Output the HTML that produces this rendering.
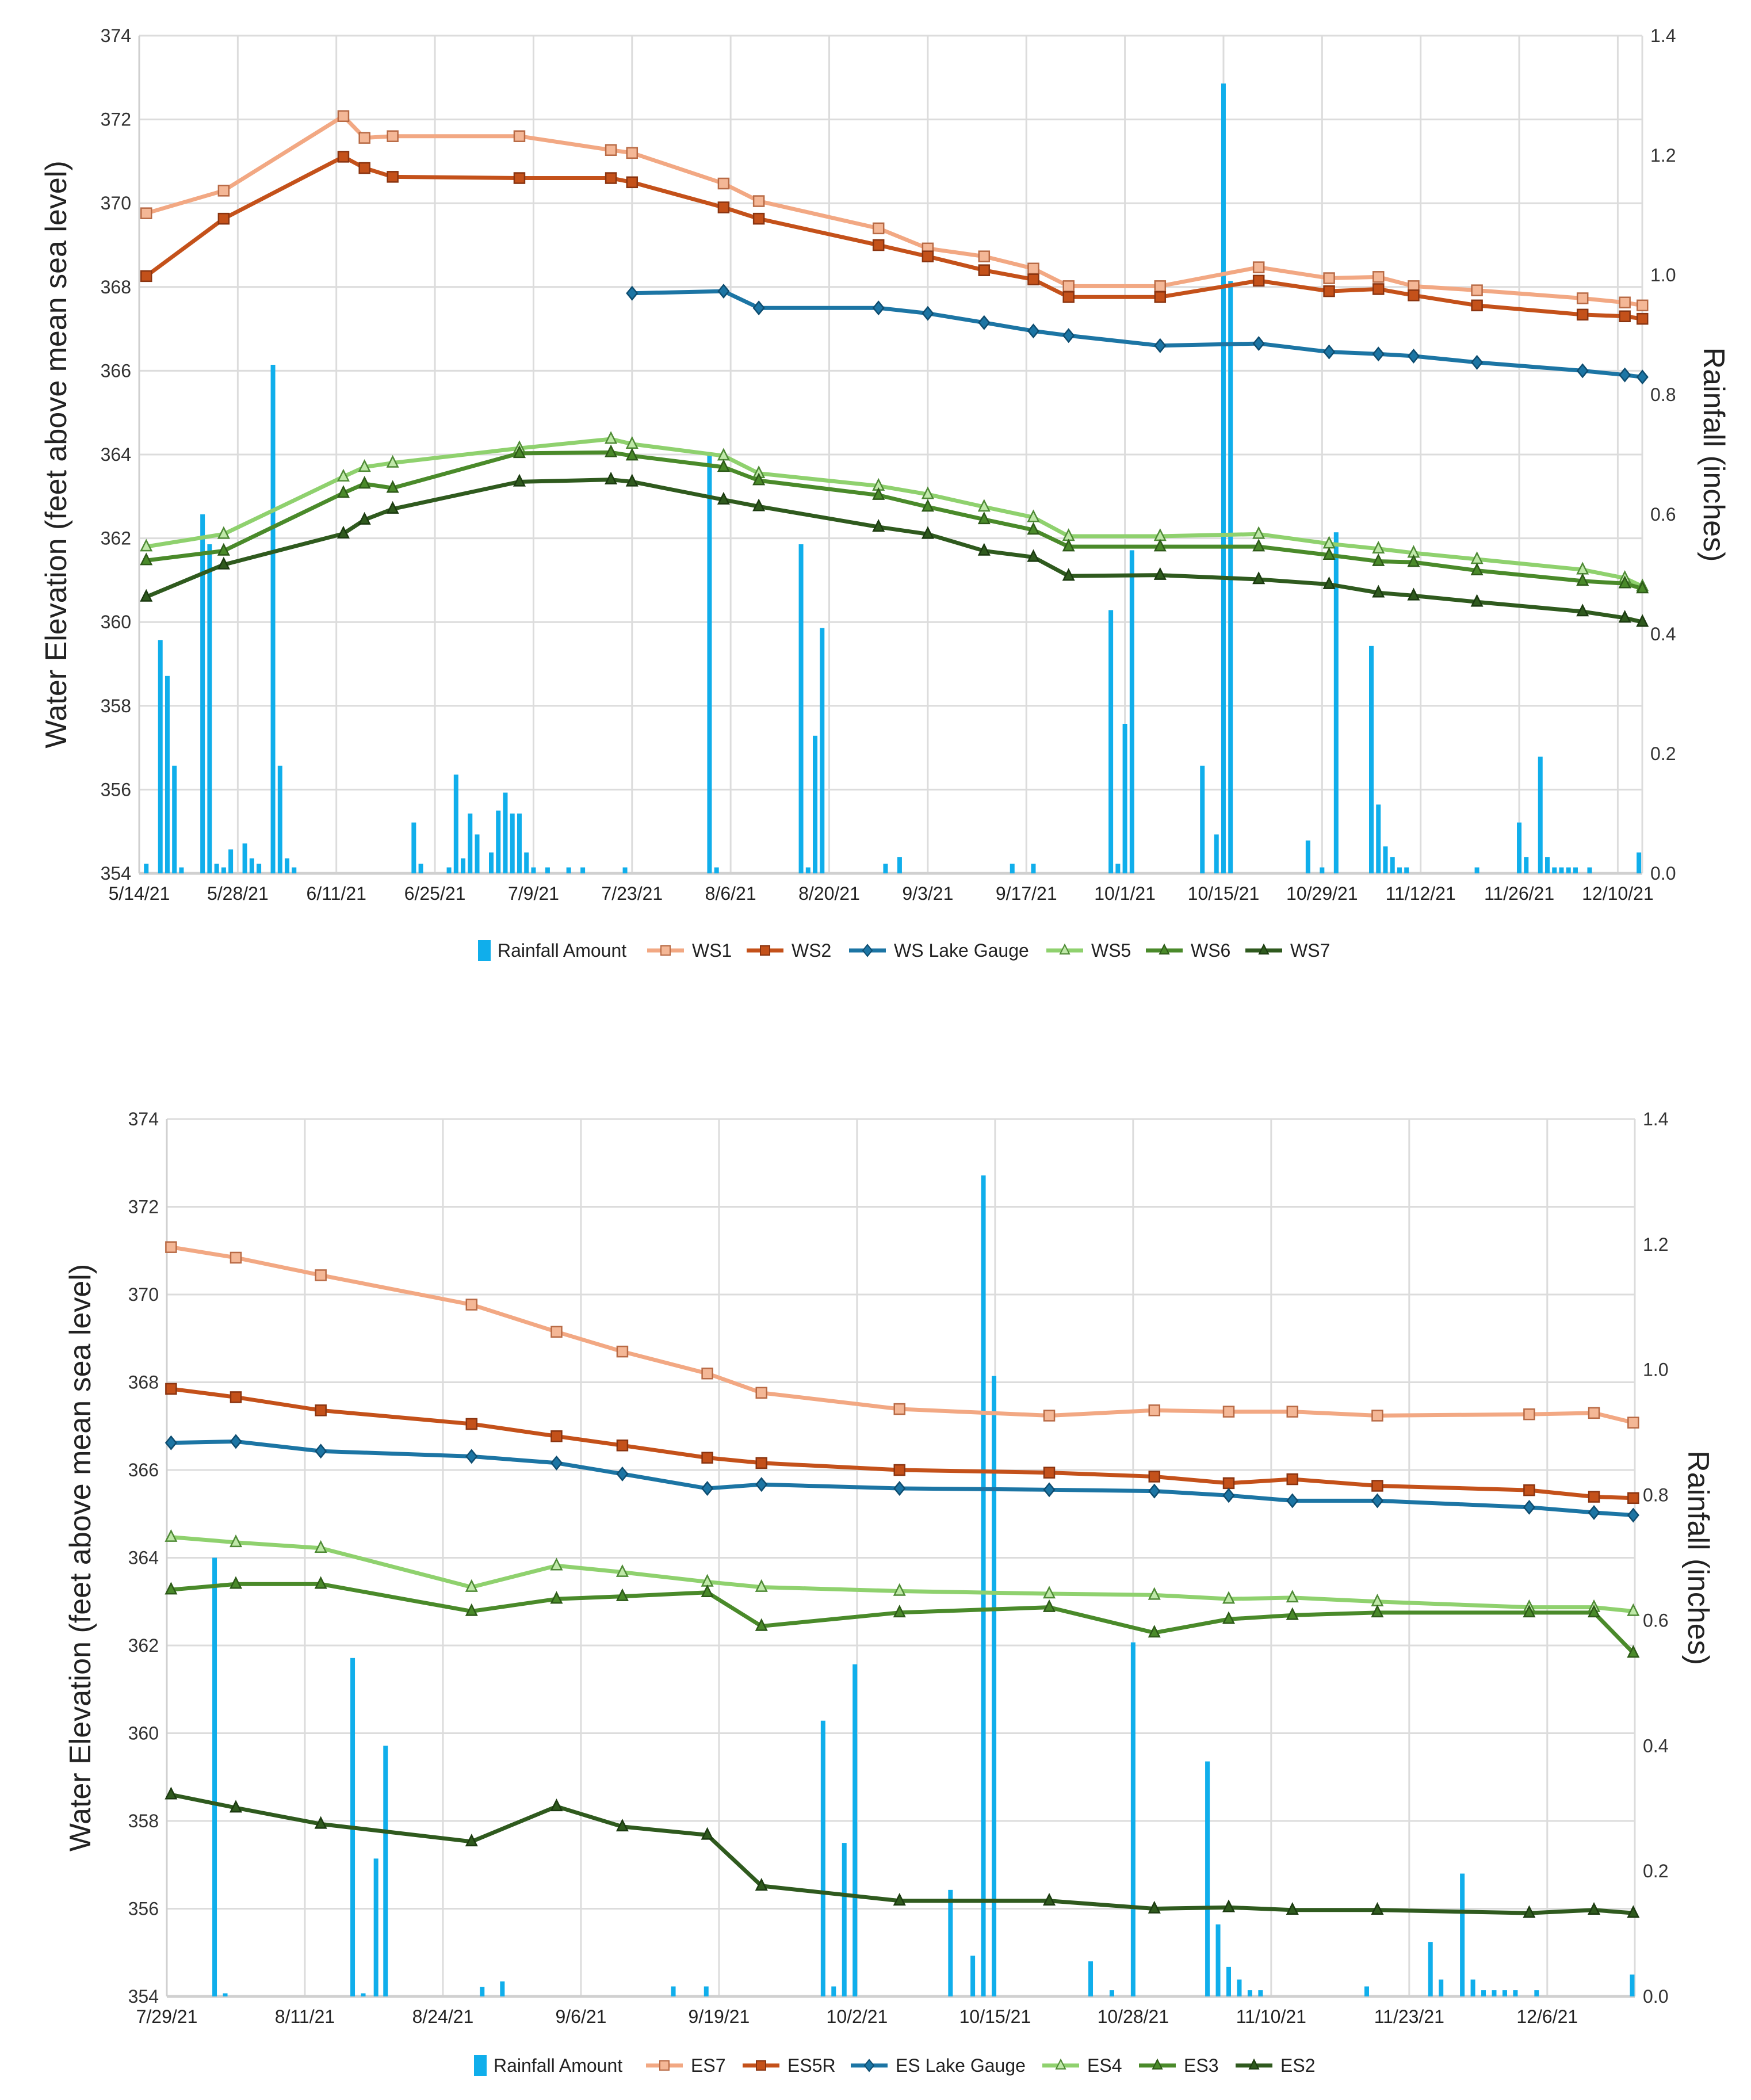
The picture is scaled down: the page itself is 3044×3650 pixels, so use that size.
<!DOCTYPE html>
<html><head><meta charset="utf-8">
<style>
html,body{margin:0;padding:0;background:#fff;}
svg{display:block;font-family:"Liberation Sans",sans-serif;}
</style></head>
<body>
<svg id="root" width="3044" height="3650" viewBox="0 0 3044 3650" xmlns="http://www.w3.org/2000/svg">
<g id="c1"></g>
<g id="c2"></g>
</svg>
<script>
// ===== Chart 1 (West side) data: day offsets from 5/14/21 =====
const wsTickLabels = ["5/14/21","5/28/21","6/11/21","6/25/21","7/9/21","7/23/21","8/6/21","8/20/21","9/3/21","9/17/21","10/1/21","10/15/21","10/29/21","11/12/21","11/26/21","12/10/21"];
const wsDays = [1,12,29,32,36,54,67,70,83,88,105,112,120,127,132,145,159,169,176,181,190,205,211,213.5];
const ws1 = [369.76,370.3,372.08,371.56,371.6,371.6,371.27,371.2,370.47,370.05,369.4,368.92,368.73,368.44,368.02,368.02,368.47,368.21,368.24,368.02,367.92,367.73,367.63,367.56];
const ws2 = [368.26,369.63,371.11,370.84,370.63,370.6,370.6,370.5,369.9,369.63,369.0,368.73,368.4,368.18,367.76,367.76,368.15,367.9,367.95,367.8,367.56,367.34,367.3,367.24];
const wsLake = [null,null,null,null,null,null,null,367.85,367.9,367.5,367.5,367.37,367.15,366.95,366.84,366.6,366.65,366.45,366.4,366.35,366.2,366.0,365.9,365.85];
const ws5 = [361.8,362.1,363.47,363.7,363.8,364.15,364.37,364.25,363.97,363.55,363.25,363.05,362.75,362.5,362.05,362.05,362.1,361.87,361.75,361.65,361.5,361.25,361.05,360.85];
const ws6 = [361.47,361.7,363.08,363.3,363.2,364.03,364.05,363.97,363.7,363.38,363.03,362.75,362.45,362.2,361.8,361.8,361.8,361.6,361.45,361.43,361.23,360.98,360.92,360.8];
const ws7 = [360.6,361.37,362.11,362.44,362.7,363.35,363.4,363.35,362.92,362.76,362.27,362.1,361.7,361.55,361.1,361.12,361.02,360.9,360.7,360.63,360.48,360.25,360.1,360.0];
const wsRainDays = [1,3,4,5,6,9,10,11,12,13,15,16,17,19,20,21,22,39,40,44,45,46,47,48,50,51,52,53,54,55,56,58,61,63,69,81,82,94,95,96,97,106,108,124,127,138,139,140,141,151,153,154,155,166,168,170,175,176,177,178,179,180,190,196,197,199,200,201,202,203,204,206,213];
const wsRain = [0.016,0.39,0.33,0.18,0.01,0.6,0.55,0.016,0.01,0.04,0.05,0.025,0.016,0.85,0.18,0.025,0.01,0.085,0.016,0.01,0.165,0.025,0.1,0.065,0.035,0.105,0.135,0.1,0.1,0.035,0.01,0.01,0.01,0.01,0.01,0.7,0.01,0.55,0.01,0.23,0.41,0.016,0.027,0.016,0.016,0.44,0.016,0.25,0.54,0.18,0.065,1.32,0.99,0.055,0.01,0.57,0.38,0.115,0.045,0.027,0.01,0.01,0.01,0.085,0.027,0.195,0.027,0.01,0.01,0.01,0.01,0.01,0.035];

// ===== Chart 2 (East side) data: day offsets from 7/29/21 =====
const esTickLabels = ["7/29/21","8/11/21","8/24/21","9/6/21","9/19/21","10/2/21","10/15/21","10/28/21","11/10/21","11/23/21","12/6/21"];
const esDays = [0.4,6.5,14.5,28.7,36.7,42.9,50.9,56,69,83.1,93,100,106,114,128.3,134.4,138.1];
const es7 = [371.08,370.84,370.44,369.77,369.15,368.7,368.2,367.76,367.39,367.24,367.36,367.33,367.33,367.24,367.27,367.3,367.08];
const es5r = [367.85,367.66,367.36,367.05,366.77,366.56,366.28,366.16,366.0,365.94,365.85,365.7,365.79,365.64,365.54,365.39,365.36];
const esLake = [366.62,366.65,366.43,366.31,366.16,365.91,365.58,365.67,365.58,365.55,365.52,365.42,365.3,365.3,365.15,365.03,364.97];
const es4 = [364.47,364.35,364.22,363.33,363.82,363.67,363.45,363.33,363.24,363.18,363.15,363.06,363.09,363.0,362.87,362.87,362.78];
const es3 = [363.27,363.4,363.4,362.78,363.06,363.12,363.21,362.44,362.75,362.87,362.29,362.6,362.69,362.75,362.75,362.75,361.83];
const es2 = [358.6,358.3,357.93,357.53,358.33,357.87,357.68,356.52,356.18,356.18,356.0,356.03,355.97,355.97,355.9,355.97,355.9];
const esRainDays = [4.5,5.5,17.5,18.5,19.7,20.6,29.7,31.6,47.7,50.8,61.8,62.8,63.8,64.8,73.8,75.9,76.9,77.9,87,89,91,98,99,100,101,102,103,113,119,120,122,123,124,125,126,127,129,138];
const esRain = [0.7,0.005,0.54,0.005,0.22,0.4,0.015,0.024,0.016,0.016,0.44,0.016,0.245,0.53,0.17,0.065,1.31,0.99,0.056,0.01,0.565,0.375,0.115,0.047,0.027,0.01,0.01,0.016,0.087,0.027,0.196,0.027,0.01,0.01,0.01,0.01,0.01,0.035];

const yTicks = [354,356,358,360,362,364,366,368,370,372,374];
const rTicks = ["0.0","0.2","0.4","0.6","0.8","1.0","1.2","1.4"];

const NS = "http://www.w3.org/2000/svg";
function mk(parent, tag, attrs, text){
  const e = document.createElementNS(NS, tag);
  for (const k in attrs) e.setAttribute(k, attrs[k]);
  if (text !== undefined) e.textContent = text;
  parent.appendChild(e);
  return e;
}
const COL = {rain:"#10AEEB", s1:"#F2A883", s1m:"#F4B796", s1b:"#B86A45", s2:"#C4511A", s2b:"#8A3410",
  lake:"#1C75A4", lakeb:"#0E4D70", g1:"#8FD16E", g1b:"#4E8A35", g2:"#4A8A2A", g2b:"#2D5A18", g3:"#2F5A1E", g3b:"#1B3A10"};

function drawChart(g, geo, tickLabels, tickStep, days, seriesList, rainDays, rain, legend){
  const X = d => geo.left + d * geo.ppd;
  const Y = v => geo.bottom - (v - 354) / 20 * (geo.bottom - geo.top);
  const YR = v => geo.bottom - v / 1.4 * (geo.bottom - geo.top);
  yTicks.forEach(v => {
    const l = mk(g, "line", {x1:geo.left, x2:geo.right, y1:Y(v), y2:Y(v), stroke:"#dcdcdc", "stroke-width":3});
    
    
    const t = mk(g, "text", {x:geo.left - 14, y:Y(v) + 11, "text-anchor":"end", "font-size":32, fill:"#333"}, String(v));
    
    
  });
  rTicks.forEach((s, i) => {
    const t = mk(g, "text", {x:geo.right + 14, y:YR(i * 0.2) + 11, "font-size":32, fill:"#333"}, s);
    
    
  });
  tickLabels.forEach((s, i) => {
    const x = X(i * tickStep);
    const l = mk(g, "line", {x1:x, x2:x, y1:geo.top, y2:geo.bottom, stroke:"#dcdcdc", "stroke-width":3});
    
    
    const t = mk(g, "text", {x:x, y:geo.bottom + 46, "text-anchor":"middle", "font-size":32, fill:"#222"}, s);
    
    
  });
  const rl = mk(g, "line", {x1:geo.right, x2:geo.right, y1:geo.top, y2:geo.bottom, stroke:"#dcdcdc", "stroke-width":3});
  
  
  const ll = mk(g, "line", {x1:geo.left, x2:geo.left, y1:geo.top, y2:geo.bottom, stroke:"#d0d0d0", "stroke-width":3});
  
  
  const bl = mk(g, "line", {x1:geo.left, x2:geo.right, y1:geo.bottom, y2:geo.bottom, stroke:"#d0d0d0", "stroke-width":5});
  
  
  rainDays.forEach((d, i) => {
    const h = geo.bottom - YR(rain[i]);
    const r = mk(g, "rect", {x:X(d) - 4, y:YR(rain[i]), width:8, height:h, fill:COL.rain});
    
    
  });
  seriesList.forEach(s => {
    let pts = [];
    days.forEach((d, i) => { if (s.vals[i] !== null) pts.push([X(d), Y(s.vals[i])]); });
    const p = mk(g, "polyline", {points:pts.map(p => p.join(",")).join(" "), fill:"none", stroke:s.color, "stroke-width":7, "stroke-linejoin":"round"});
    
    
    pts.forEach(pt => {
      let m;
      if (s.marker === "square") m = mk(g, "rect", {x:pt[0]-9, y:pt[1]-9, width:18, height:18, fill:s.mfill, stroke:s.mstroke, "stroke-width":2.5});
      else if (s.marker === "diamond") m = mk(g, "polygon", {points:`${pt[0]},${pt[1]-11} ${pt[0]+9},${pt[1]} ${pt[0]},${pt[1]+11} ${pt[0]-9},${pt[1]}`, fill:s.mfill, stroke:s.mstroke, "stroke-width":2.5});
      else m = mk(g, "polygon", {points:`${pt[0]},${pt[1]-11} ${pt[0]+9},${pt[1]+7} ${pt[0]-9},${pt[1]+7}`, fill:s.mfill, stroke:s.mstroke, "stroke-width":2.5});
      
      
    });
  });
  const cy = (geo.top + geo.bottom) / 2;
  const lt = mk(g, "text", {x:geo.ltx, y:cy, "text-anchor":"middle", "font-size":52, fill:"#222", transform:`rotate(-90 ${geo.ltx} ${cy})`}, "Water Elevation (feet above mean sea level)");
  
  
  const rt = mk(g, "text", {x:geo.rtx, y:cy, "text-anchor":"middle", "font-size":52, fill:"#222", transform:`rotate(90 ${geo.rtx} ${cy})`}, "Rainfall (inches)");
  
  
  const ly = geo.legendY;
  let x = geo.legendX;
  const lg = mk(g, "g", {});
  
  
  const sw = mk(lg, "rect", {x:x, y:ly - 18, width:22, height:36, fill:COL.rain});
  
  
  const rtxt = mk(lg, "text", {x:x + 34, y:ly + 11, "font-size":32, fill:"#222"}, "Rainfall Amount");
  
  
  x += 34 + legend.rainW;
  seriesList.forEach((s, i) => {
    const ln = mk(lg, "line", {x1:x, x2:x + 64, y1:ly, y2:ly, stroke:s.color, "stroke-width":7});
    
    
    const cx = x + 32;
    let m;
    if (s.marker === "square") m = mk(lg, "rect", {x:cx-8, y:ly-8, width:16, height:16, fill:s.mfill, stroke:s.mstroke, "stroke-width":2});
    else if (s.marker === "diamond") m = mk(lg, "polygon", {points:`${cx},${ly-10} ${cx+8},${ly} ${cx},${ly+10} ${cx-8},${ly}`, fill:s.mfill, stroke:s.mstroke, "stroke-width":2});
    else m = mk(lg, "polygon", {points:`${cx},${ly-10} ${cx+8},${ly+6} ${cx-8},${ly+6}`, fill:s.mfill, stroke:s.mstroke, "stroke-width":2});
    
    
    const t = mk(lg, "text", {x:x + 78, y:ly + 11, "font-size":32, fill:"#222"}, s.label);
    
    
    x += 78 + legend.widths[i];
  });
}

drawChart(document.getElementById("c1"),
  {left:242, right:2855, top:62, bottom:1518, ppd:12.24, ltx:115, rtx:2962, legendX:831, legendY:1652},
  wsTickLabels, 14, wsDays,
  [
    {name:"ws1", label:"WS1", vals:ws1, color:COL.s1, marker:"square", mfill:COL.s1m, mstroke:COL.s1b},
    {name:"ws2", label:"WS2", vals:ws2, color:COL.s2, marker:"square", mfill:COL.s2, mstroke:COL.s2b},
    {name:"ws-lake-gauge", label:"WS Lake Gauge", vals:wsLake, color:COL.lake, marker:"diamond", mfill:COL.lake, mstroke:COL.lakeb},
    {name:"ws5", label:"WS5", vals:ws5, color:COL.g1, marker:"triangle", mfill:"#BFE8A8", mstroke:COL.g1b},
    {name:"ws6", label:"WS6", vals:ws6, color:COL.g2, marker:"triangle", mfill:COL.g2, mstroke:COL.g2b},
    {name:"ws7", label:"WS7", vals:ws7, color:COL.g3, marker:"triangle", mfill:COL.g3, mstroke:COL.g3b}
  ],
  wsRainDays, wsRain, {rainW:260, widths:[95, 100, 265, 95, 95, 95]});

drawChart(document.getElementById("c2"),
  {left:290, right:2842, top:1945, bottom:3470, ppd:18.46, ltx:157, rtx:2935, legendX:824, legendY:3590},
  esTickLabels, 13, esDays,
  [
    {name:"es7", label:"ES7", vals:es7, color:COL.s1, marker:"square", mfill:COL.s1m, mstroke:COL.s1b},
    {name:"es5r", label:"ES5R", vals:es5r, color:COL.s2, marker:"square", mfill:COL.s2, mstroke:COL.s2b},
    {name:"es-lake-gauge", label:"ES Lake Gauge", vals:esLake, color:COL.lake, marker:"diamond", mfill:COL.lake, mstroke:COL.lakeb},
    {name:"es4", label:"ES4", vals:es4, color:COL.g1, marker:"triangle", mfill:"#BFE8A8", mstroke:COL.g1b},
    {name:"es3", label:"ES3", vals:es3, color:COL.g2, marker:"triangle", mfill:COL.g2, mstroke:COL.g2b},
    {name:"es2", label:"ES2", vals:es2, color:COL.g3, marker:"triangle", mfill:COL.g3, mstroke:COL.g3b}
  ],
  esRainDays, esRain, {rainW:265, widths:[90, 110, 255, 90, 90, 90]});
</script>
</body></html>
